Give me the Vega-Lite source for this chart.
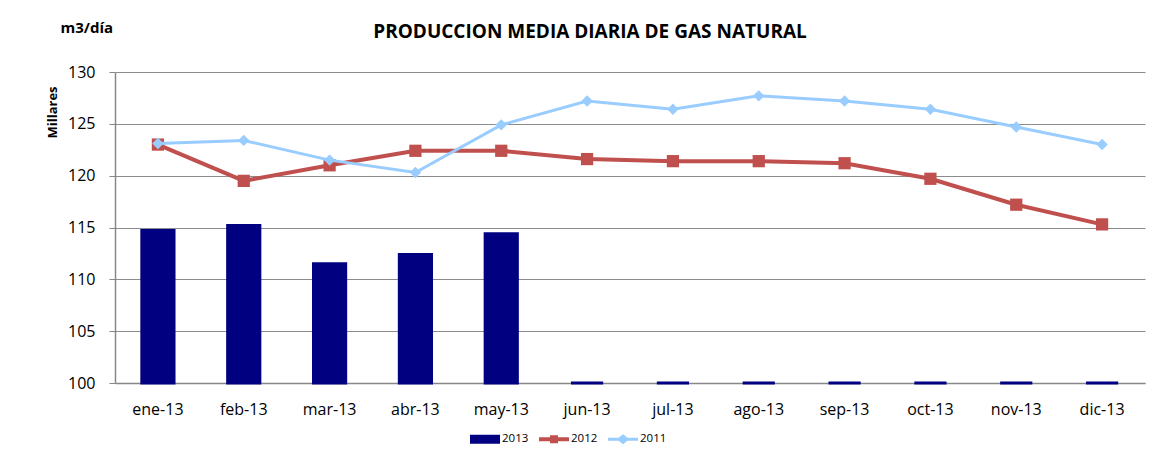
{
  "$schema": "https://vega.github.io/schema/vega-lite/v6.json",
  "width": 1030,
  "height": 311,
  "autosize": {"type": "none"},
  "padding": {"left": 115, "top": 72, "right": 22, "bottom": 78},
  "background": "white",
  "config": {
    "font": "Open Sans",
    "view": {"stroke": null},
    "axis": {"labelFont": "Open Sans", "titleFont": "Open Sans"}
  },
  "title": {
    "text": "PRODUCCION MEDIA DIARIA DE GAS NATURAL",
    "fontSize": 19,
    "fontWeight": "bold",
    "font": "Open Sans",
    "color": "black",
    "anchor": "middle",
    "dx": -40,
    "offset": -22
  },
  "data": {
    "values": [
      {"mes": "ene-13", "serie": "2013", "valor": 114.7},
      {"mes": "feb-13", "serie": "2013", "valor": 115.2},
      {"mes": "mar-13", "serie": "2013", "valor": 111.5},
      {"mes": "abr-13", "serie": "2013", "valor": 112.4},
      {"mes": "may-13", "serie": "2013", "valor": 114.4},
      {"mes": "jun-13", "serie": "2013", "valor": 0},
      {"mes": "jul-13", "serie": "2013", "valor": 0},
      {"mes": "ago-13", "serie": "2013", "valor": 0},
      {"mes": "sep-13", "serie": "2013", "valor": 0},
      {"mes": "oct-13", "serie": "2013", "valor": 0},
      {"mes": "nov-13", "serie": "2013", "valor": 0},
      {"mes": "dic-13", "serie": "2013", "valor": 0},
      {"mes": "ene-13", "serie": "2012", "valor": 123.0},
      {"mes": "feb-13", "serie": "2012", "valor": 119.5},
      {"mes": "mar-13", "serie": "2012", "valor": 121.0},
      {"mes": "abr-13", "serie": "2012", "valor": 122.4},
      {"mes": "may-13", "serie": "2012", "valor": 122.4},
      {"mes": "jun-13", "serie": "2012", "valor": 121.6},
      {"mes": "jul-13", "serie": "2012", "valor": 121.4},
      {"mes": "ago-13", "serie": "2012", "valor": 121.4},
      {"mes": "sep-13", "serie": "2012", "valor": 121.2},
      {"mes": "oct-13", "serie": "2012", "valor": 119.7},
      {"mes": "nov-13", "serie": "2012", "valor": 117.2},
      {"mes": "dic-13", "serie": "2012", "valor": 115.3},
      {"mes": "ene-13", "serie": "2011", "valor": 123.1},
      {"mes": "feb-13", "serie": "2011", "valor": 123.4},
      {"mes": "mar-13", "serie": "2011", "valor": 121.5},
      {"mes": "abr-13", "serie": "2011", "valor": 120.3},
      {"mes": "may-13", "serie": "2011", "valor": 124.9},
      {"mes": "jun-13", "serie": "2011", "valor": 127.2},
      {"mes": "jul-13", "serie": "2011", "valor": 126.4},
      {"mes": "ago-13", "serie": "2011", "valor": 127.7},
      {"mes": "sep-13", "serie": "2011", "valor": 127.2},
      {"mes": "oct-13", "serie": "2011", "valor": 126.4},
      {"mes": "nov-13", "serie": "2011", "valor": 124.7},
      {"mes": "dic-13", "serie": "2011", "valor": 123.0}
    ]
  },
  "encoding": {
    "x": {
      "field": "mes",
      "type": "ordinal",
      "sort": null,
      "scale": {"paddingInner": 0.625, "paddingOuter": 0.3125},
      "axis": {
        "title": null,
        "labelAngle": 0,
        "labelFontSize": 16,
        "labelColor": "black",
        "labelPadding": 18,
        "ticks": false,
        "domainColor": "#888888",
        "domainWidth": 1.5
      }
    },
    "y": {
      "field": "valor",
      "type": "quantitative",
      "scale": {"domain": [100, 130], "zero": false, "clamp": true, "nice": false}
    }
  },
  "resolve": {"axis": {"y": "independent"}},
  "layer": [
    {
      "transform": [{"filter": "datum.serie === '2013'"}],
      "mark": {"type": "bar", "color": "#000080", "stroke": "#000080", "strokeWidth": 3},
      "encoding": {
        "y": {
          "field": "valor",
          "type": "quantitative",
          "axis": {
            "orient": "left",
            "values": [100, 105, 110, 115, 120, 125, 130],
            "labelFontSize": 16,
            "labelColor": "black",
            "labelPadding": 14,
            "tickSize": 6,
            "tickColor": "#888888",
            "domainColor": "#888888",
            "domainWidth": 1.5,
            "gridColor": "#8c8c8c",
            "gridWidth": 1.2,
            "title": "Millares",
            "titleFontSize": 13,
            "titleFontWeight": "bold",
            "titleColor": "black",
            "titleAngle": -90,
            "titleX": -59,
            "titleY": 40,
            "titleAlign": "center",
            "titleBaseline": "alphabetic"
          }
        }
      }
    },
    {
      "transform": [{"filter": "datum.serie === '2012'"}],
      "mark": {"type": "line", "color": "#C0504D", "strokeWidth": 4, "point": {"filled": true, "shape": "square", "size": 150, "color": "#C0504D"}},
      "encoding": {
        "y": {
          "field": "valor",
          "type": "quantitative",
          "axis": {
            "orient": "left",
            "labels": false,
            "ticks": false,
            "domain": false,
            "grid": false,
            "title": "m3/día",
            "titleFontSize": 15,
            "titleFontWeight": "bold",
            "titleColor": "black",
            "titleAngle": 0,
            "titleX": -55,
            "titleY": -40,
            "titleAlign": "left",
            "titleBaseline": "alphabetic"
          }
        }
      }
    },
    {
      "transform": [{"filter": "datum.serie === '2011'"}],
      "mark": {"type": "line", "color": "#99CCFF", "strokeWidth": 3, "point": {"filled": true, "shape": "diamond", "size": 130, "color": "#99CCFF"}},
      "encoding": {
        "y": {"field": "valor", "type": "quantitative", "axis": null}
      }
    },
    {
      "transform": [{"filter": "datum.serie === '2013'"}],
      "mark": {"type": "point", "filled": true, "opacity": 0},
      "encoding": {
        "y": {"field": "valor", "type": "quantitative", "axis": null},
        "color": {
          "field": "serie",
          "type": "nominal",
          "scale": {"domain": ["2013", "2012", "2011"], "range": ["#000080", "#C0504D", "#99CCFF"]},
          "legend": {
            "title": null,
            "orient": "none",
            "legendX": 360,
            "legendY": 357,
            "direction": "horizontal",
            "labelFontSize": 11.5,
            "labelColor": "black",
            "labelFont": "Open Sans",
            "symbolSize": 400,
            "symbolStrokeWidth": 0,
            "labelOffset": 7,
            "columnPadding": 10,
            "encode": {"symbols": {"update": {"opacity": {"value": 1}, "fillOpacity": {"value": 1}}}}
          }
        },
        "shape": {
          "field": "serie",
          "type": "nominal",
          "scale": {
            "domain": ["2013", "2012", "2011"],
            "range": [
              "M-1.5,-0.45H1.5V0.45H-1.5Z",
              "M-1.5,-0.2H-0.4V-0.4H0.4V-0.2H1.5V0.2H0.4V0.4H-0.4V0.2H-1.5Z",
              "M-1.5,-0.15H-0.45L0,-0.5L0.45,-0.15H1.5V0.15H0.45L0,0.5L-0.45,0.15H-1.5Z"
            ]
          }
        }
      }
    }
  ]
}
